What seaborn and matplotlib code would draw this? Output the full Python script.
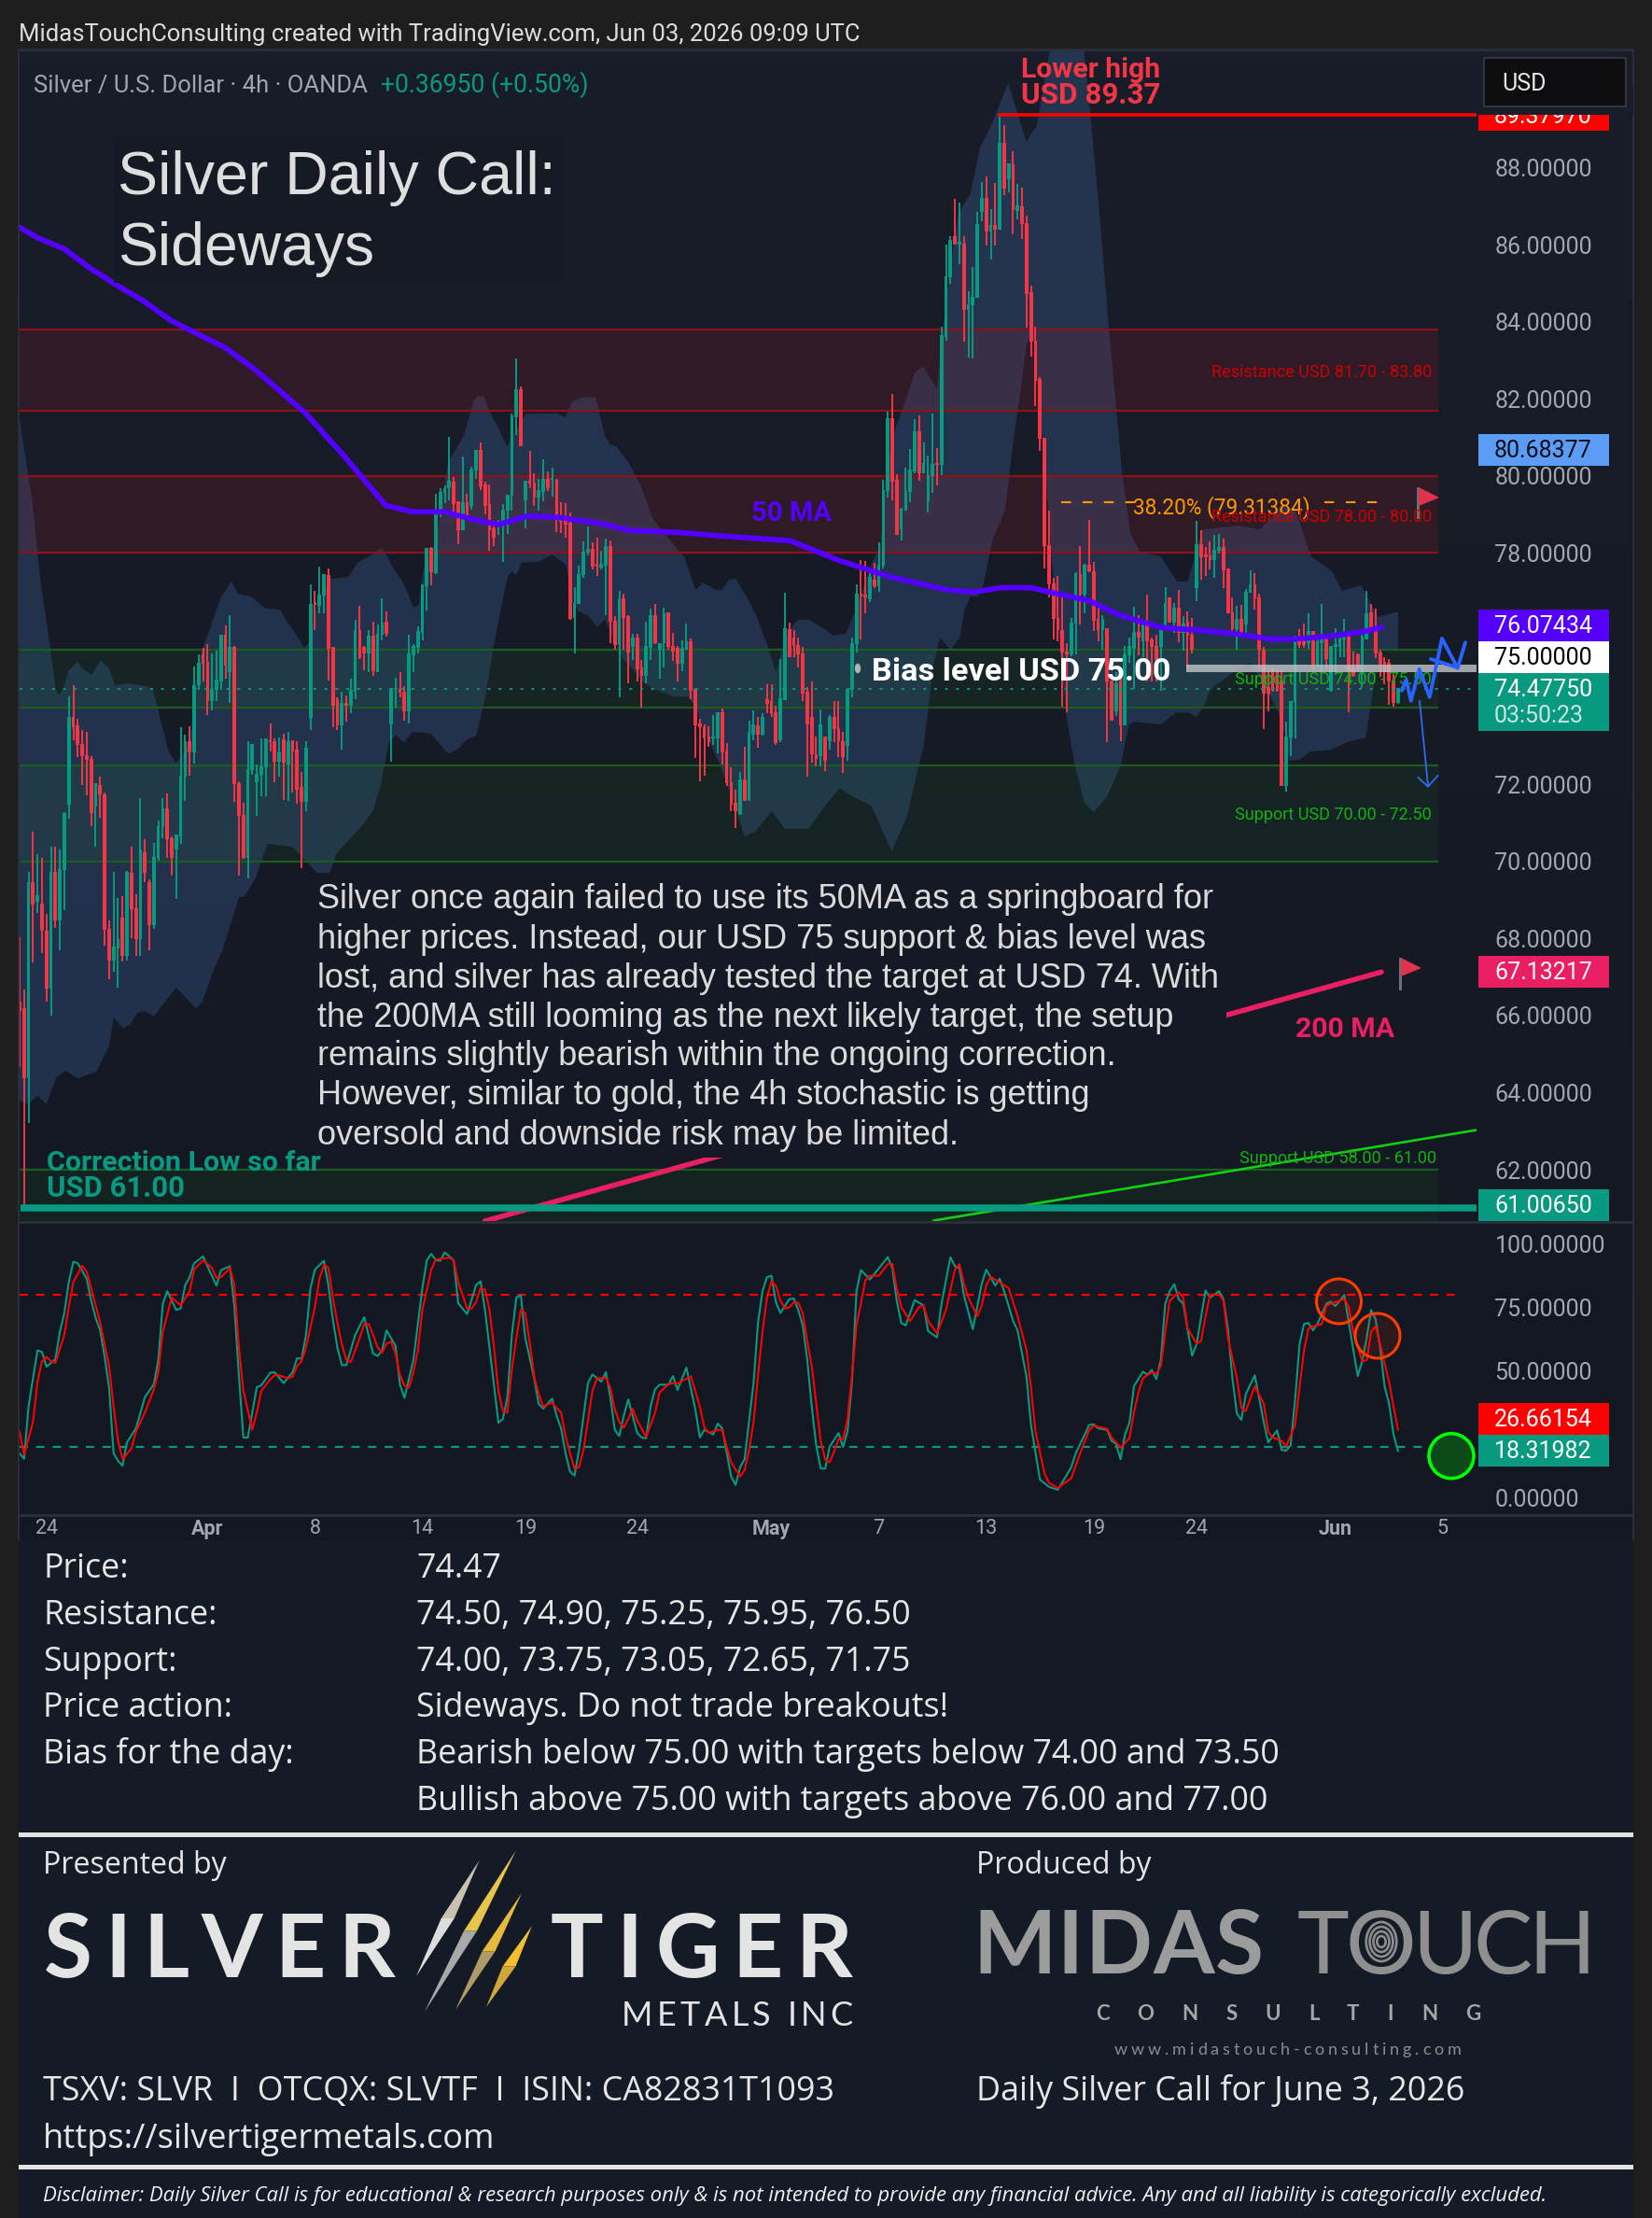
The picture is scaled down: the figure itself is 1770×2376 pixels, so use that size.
import numpy as np
import matplotlib
matplotlib.use("Agg")
import matplotlib.pyplot as plt
from matplotlib.patches import Rectangle, Ellipse, Polygon
import seaborn as sns

# candles, oldest first
opens = [
    66.35, 66.17, 64.37, 69.45, 68.95, 68.89, 68.19, 66.71, 69.70, 68.48,
    69.78, 71.48, 73.72, 73.51, 73.03, 72.74, 72.64, 71.43, 71.95, 71.73,
    68.22, 67.43, 67.73, 68.51, 67.54, 69.68, 68.76, 67.99, 70.22, 69.43,
    68.35, 70.08, 70.89, 71.35, 70.57, 70.30, 70.65, 72.21, 73.09, 72.82,
    74.56, 75.36, 75.16, 74.16, 74.44, 74.67, 75.86, 74.92, 75.54, 72.00,
    71.19, 70.08, 72.37, 72.05, 72.24, 72.44, 73.13, 73.09, 72.59, 73.14,
    72.51, 73.13, 72.87, 71.90, 71.54, 73.72, 76.70, 76.62, 76.89, 77.41,
    75.54, 74.19, 73.54, 74.08, 74.05, 74.40, 75.97, 75.54, 75.40, 75.83,
    74.92, 75.89, 76.19, 73.55, 74.47, 74.46, 74.37, 73.90, 75.35, 75.54,
    75.93, 77.14, 78.12, 77.47, 79.04, 79.56, 79.67, 79.82, 79.32, 78.59,
    79.29, 79.22, 80.13, 80.66, 79.75, 79.24, 78.61, 78.72, 78.72, 79.10,
    79.49, 81.53, 82.23, 79.37, 79.85, 79.80, 79.44, 79.58, 79.91, 79.89,
    79.88, 78.89, 78.83, 78.76, 76.32, 76.69, 77.43, 78.01, 78.09, 77.69,
    77.62, 77.68, 78.16, 76.23, 75.63, 76.80, 76.34, 75.57, 75.78, 75.00,
    74.82, 75.54, 76.38, 75.50, 75.65, 76.43, 75.57, 75.52, 75.13, 75.50,
    75.69, 74.46, 73.55, 73.47, 73.21, 73.18, 73.19, 73.84, 72.84, 72.04,
    71.49, 71.22, 72.10, 71.59, 73.30, 73.52, 73.30, 74.19, 74.14, 73.85,
    73.14, 74.19, 76.00, 75.78, 75.60, 75.38, 74.38, 73.74, 72.77, 72.74,
    73.22, 73.11, 73.73, 73.43, 73.11, 73.00, 74.44, 75.63, 76.92, 76.89,
    76.81, 77.30, 77.13, 77.67, 79.60, 81.47, 79.87, 78.62, 79.11, 79.58,
    80.12, 81.13, 80.06, 79.35, 80.00, 80.32, 80.28, 83.60, 85.16, 86.21,
    86.01, 86.01, 84.30, 84.44, 84.62, 86.86, 87.19, 86.33, 86.48, 86.38,
    88.62, 87.70, 88.06, 86.87, 86.98, 86.55, 84.75, 83.49, 82.49, 80.98,
    78.19, 77.20, 76.30, 75.97, 75.43, 75.38, 76.16, 77.43, 76.92, 77.67,
    77.51, 76.27, 76.00, 76.04, 74.67, 73.90, 74.67, 73.54, 75.35, 75.51,
    75.92, 75.72, 76.12, 75.74, 75.56, 75.56, 76.07, 76.82, 76.19, 76.57,
    75.92, 76.20, 75.86, 77.09, 78.20, 77.94, 77.91, 77.82, 78.06, 78.14,
    77.57, 76.43, 76.02, 76.26, 76.15, 76.97, 77.17, 76.83, 75.48, 74.51,
    74.99, 74.91, 74.68, 71.96, 73.22, 74.14, 75.81, 75.80, 75.65, 75.96,
    75.07, 75.65, 75.82, 74.43, 75.57, 75.56, 75.76, 75.80, 74.99, 75.35,
    74.91, 75.76, 76.44, 76.08, 75.40, 75.15, 75.14, 74.67, 74.10,
]
highs = [
    68.03, 66.68, 69.73, 70.78, 70.19, 70.10, 68.65, 70.38, 70.37, 70.32,
    71.27, 74.27, 74.56, 73.70, 73.40, 73.35, 72.73, 72.03, 72.21, 71.78,
    68.48, 69.72, 69.05, 69.11, 69.76, 70.38, 69.15, 71.63, 70.57, 69.54,
    70.49, 71.05, 71.63, 71.76, 70.65, 70.70, 73.49, 73.30, 73.50, 75.05,
    75.36, 75.55, 75.63, 75.40, 75.46, 75.88, 76.12, 76.40, 75.59, 72.08,
    71.53, 73.11, 73.05, 72.51, 73.18, 73.18, 73.57, 73.19, 73.22, 73.31,
    73.35, 73.14, 73.13, 72.32, 73.11, 77.18, 77.02, 77.65, 77.45, 77.59,
    75.56, 74.26, 74.40, 74.30, 74.75, 76.26, 76.62, 75.59, 76.00, 76.22,
    76.14, 76.82, 76.48, 74.50, 74.76, 74.91, 74.55, 75.88, 75.63, 76.09,
    77.19, 78.12, 78.15, 79.54, 79.67, 79.75, 81.01, 79.97, 79.33, 80.50,
    79.54, 80.25, 80.66, 80.86, 79.85, 79.78, 78.79, 78.87, 79.26, 79.50,
    81.62, 83.04, 82.31, 79.87, 80.66, 80.06, 79.93, 80.43, 80.12, 80.21,
    79.93, 79.33, 79.29, 79.04, 77.11, 77.66, 78.31, 78.68, 78.27, 78.40,
    78.07, 78.37, 78.33, 76.36, 77.01, 76.94, 76.38, 75.91, 75.90, 75.22,
    76.23, 76.55, 76.67, 75.67, 76.58, 76.45, 75.93, 75.59, 75.73, 76.16,
    75.78, 74.48, 73.70, 73.55, 73.51, 73.79, 73.88, 73.96, 73.06, 72.43,
    71.85, 72.32, 72.97, 73.65, 73.92, 73.76, 73.84, 74.59, 74.59, 74.05,
    75.25, 76.97, 76.19, 76.00, 75.81, 75.56, 74.52, 74.66, 73.24, 73.93,
    73.25, 73.79, 74.17, 74.17, 73.35, 74.51, 75.81, 77.19, 77.81, 77.79,
    77.60, 77.74, 78.27, 79.90, 81.67, 82.12, 80.04, 79.17, 80.21, 80.70,
    81.47, 81.56, 80.87, 80.52, 81.62, 80.73, 83.87, 86.01, 86.21, 87.20,
    87.09, 86.21, 84.79, 85.43, 86.84, 87.63, 87.78, 86.93, 87.59, 89.33,
    89.11, 88.10, 88.43, 87.57, 87.48, 86.75, 84.93, 83.87, 82.57, 81.00,
    79.11, 77.35, 77.40, 76.92, 75.67, 76.32, 77.51, 78.19, 77.73, 78.87,
    77.76, 76.68, 76.38, 76.06, 74.67, 74.91, 74.95, 75.58, 75.80, 76.61,
    76.38, 76.14, 76.93, 75.80, 75.88, 76.07, 77.11, 76.82, 76.70, 77.03,
    76.36, 76.48, 76.31, 78.83, 78.58, 78.15, 78.30, 78.48, 78.50, 78.38,
    77.59, 76.85, 76.62, 76.65, 77.07, 77.55, 77.48, 76.95, 75.56, 74.99,
    74.99, 74.95, 74.95, 73.62, 74.14, 75.85, 76.02, 76.16, 76.43, 75.96,
    75.81, 76.67, 75.90, 75.60, 76.04, 75.96, 76.28, 75.88, 75.44, 75.39,
    75.92, 77.01, 76.69, 76.55, 75.50, 75.31, 75.26, 74.87, 74.47,
]
lows = [
    64.67, 61.00, 63.22, 67.38, 68.67, 67.63, 66.35, 65.99, 68.27, 67.70,
    68.73, 71.11, 73.14, 72.70, 71.97, 71.72, 70.92, 70.38, 71.14, 67.81,
    66.94, 67.13, 66.73, 67.41, 67.43, 68.00, 67.54, 67.56, 69.45, 67.70,
    68.26, 70.03, 70.59, 70.08, 69.63, 69.03, 70.46, 71.57, 72.22, 72.53,
    74.44, 74.66, 73.79, 73.92, 74.17, 74.44, 74.73, 74.11, 71.54, 69.63,
    70.06, 69.56, 72.24, 71.18, 71.70, 71.70, 72.84, 72.05, 72.19, 71.59,
    71.57, 71.78, 71.49, 69.82, 71.30, 73.40, 76.00, 76.44, 76.44, 74.70,
    73.49, 73.41, 72.89, 73.63, 73.84, 74.22, 75.24, 74.97, 74.92, 74.82,
    74.92, 75.74, 75.82, 72.58, 73.99, 74.25, 73.65, 73.58, 74.92, 75.40,
    75.73, 76.51, 77.17, 77.46, 78.93, 79.30, 79.36, 79.00, 78.24, 78.59,
    78.89, 79.13, 79.93, 79.63, 79.00, 78.07, 78.18, 78.47, 77.77, 78.49,
    79.09, 81.06, 80.77, 78.64, 79.67, 79.22, 79.09, 79.35, 79.61, 79.46,
    78.55, 78.53, 78.40, 76.26, 75.40, 76.69, 77.36, 77.95, 77.57, 77.40,
    77.57, 76.39, 75.67, 75.48, 74.25, 75.48, 74.62, 75.22, 74.68, 73.98,
    74.62, 75.22, 75.63, 74.75, 75.04, 75.48, 75.21, 74.68, 74.94, 75.50,
    74.20, 72.69, 72.07, 72.23, 72.97, 73.03, 72.80, 72.51, 71.95, 71.31,
    70.87, 71.21, 71.58, 71.56, 73.14, 72.95, 73.27, 73.85, 73.76, 73.03,
    73.10, 74.19, 75.30, 75.30, 75.02, 74.16, 72.21, 72.55, 72.46, 72.46,
    72.35, 72.90, 73.10, 72.70, 72.30, 72.60, 74.25, 75.43, 75.76, 76.44,
    76.73, 77.09, 77.00, 77.60, 79.44, 79.36, 78.46, 78.33, 79.11, 79.31,
    80.06, 79.87, 80.06, 79.06, 79.56, 79.76, 80.03, 83.51, 84.98, 86.01,
    85.49, 83.49, 83.08, 83.06, 84.62, 86.62, 85.98, 85.62, 85.98, 86.38,
    87.29, 87.35, 86.27, 86.66, 86.16, 83.85, 83.09, 81.81, 80.65, 77.60,
    76.84, 75.76, 75.71, 74.01, 73.87, 75.33, 75.38, 76.14, 76.43, 77.49,
    75.98, 75.71, 75.48, 73.10, 73.66, 73.78, 73.13, 73.54, 75.15, 74.47,
    75.35, 75.31, 74.67, 74.67, 74.67, 74.43, 76.04, 76.20, 75.92, 75.68,
    75.46, 74.99, 75.40, 76.75, 77.31, 77.41, 77.57, 77.36, 77.98, 77.09,
    76.43, 75.90, 75.50, 75.84, 75.84, 77.09, 76.54, 74.99, 73.44, 73.90,
    74.39, 74.39, 71.96, 71.80, 72.73, 73.18, 75.54, 75.54, 75.52, 74.99,
    75.03, 74.91, 74.99, 74.41, 74.83, 75.31, 75.31, 73.86, 74.79, 74.91,
    74.49, 75.76, 76.00, 75.27, 74.79, 74.59, 74.06, 74.02, 74.08,
]
closes = [
    66.13, 64.37, 69.45, 68.87, 69.11, 68.19, 66.71, 69.70, 68.46, 69.78,
    71.24, 73.72, 73.49, 73.03, 72.74, 72.64, 71.25, 72.00, 71.73, 68.22,
    67.43, 67.76, 67.97, 67.54, 69.70, 68.75, 67.99, 70.30, 69.71, 68.35,
    70.10, 70.89, 71.35, 70.57, 70.08, 70.67, 72.21, 73.09, 72.82, 74.56,
    75.13, 75.13, 74.16, 74.46, 74.70, 75.86, 75.07, 75.54, 72.00, 71.18,
    70.08, 72.37, 73.02, 72.24, 72.44, 73.16, 73.09, 72.59, 72.80, 72.57,
    73.11, 72.86, 71.86, 71.55, 72.94, 76.67, 76.65, 76.91, 77.43, 75.52,
    74.05, 73.54, 74.10, 74.03, 74.43, 75.97, 75.27, 75.40, 75.83, 74.94,
    75.89, 76.17, 75.91, 74.48, 74.49, 74.37, 73.90, 75.37, 75.56, 75.95,
    77.16, 78.11, 77.49, 79.04, 79.56, 79.67, 79.85, 79.28, 78.59, 79.29,
    78.93, 80.14, 80.66, 79.74, 79.23, 78.59, 78.40, 78.74, 79.11, 79.50,
    81.54, 82.23, 80.77, 79.85, 79.80, 79.45, 79.61, 79.91, 79.67, 79.93,
    78.89, 78.82, 78.74, 76.29, 76.69, 77.44, 78.02, 78.09, 77.64, 77.65,
    77.70, 78.17, 76.23, 75.62, 76.80, 76.32, 75.43, 75.78, 74.98, 74.82,
    75.56, 76.38, 75.65, 75.65, 76.42, 75.57, 75.45, 75.13, 75.52, 75.69,
    74.43, 73.54, 73.47, 73.19, 73.10, 73.23, 73.86, 72.83, 72.02, 71.48,
    71.31, 72.10, 71.58, 73.33, 73.54, 73.30, 73.74, 74.08, 73.81, 73.06,
    74.21, 76.03, 75.30, 75.60, 75.36, 74.35, 73.55, 72.77, 72.67, 73.54,
    72.60, 73.74, 73.43, 73.11, 72.70, 74.46, 75.63, 76.92, 76.87, 76.84,
    77.35, 77.13, 77.68, 79.62, 81.47, 79.85, 78.48, 79.13, 79.60, 80.14,
    81.13, 80.06, 80.32, 80.00, 80.30, 80.28, 83.63, 85.16, 86.10, 86.01,
    86.05, 84.30, 84.44, 84.62, 86.52, 87.19, 86.33, 86.48, 86.38, 88.62,
    87.46, 88.08, 86.89, 87.00, 86.54, 84.73, 83.49, 82.46, 80.97, 78.19,
    77.19, 76.30, 76.00, 75.43, 75.38, 76.17, 77.46, 76.92, 77.68, 77.52,
    76.25, 76.01, 76.28, 74.67, 73.66, 74.59, 73.54, 75.35, 75.56, 75.92,
    75.80, 76.12, 75.72, 75.56, 75.23, 76.07, 76.69, 76.20, 76.57, 75.92,
    76.16, 75.85, 75.50, 78.20, 77.88, 77.88, 77.82, 78.07, 78.14, 77.56,
    76.43, 76.02, 76.26, 75.92, 76.97, 77.17, 76.83, 75.48, 74.36, 74.36,
    74.43, 74.43, 71.96, 73.22, 74.14, 75.80, 75.62, 75.62, 75.96, 75.11,
    75.68, 75.82, 75.25, 75.58, 75.61, 75.77, 75.78, 74.95, 74.81, 74.99,
    75.80, 76.42, 76.08, 75.40, 75.11, 74.91, 74.67, 74.10, 74.48,
]

# volatility band around price, candle number and level
upper_x = [0, 2.9, 4.7, 6, 8.1, 8.8, 9.9, 10.9, 13, 14, 16.1, 18.1, 20, 21.3, 24.1, 28.3, 29.8, 31.8, 33.2, 34.9,
           35.9, 38, 40.1, 42.2, 43.6, 45, 47.3, 48.8, 51.9, 54.7, 58.2, 60.3, 63.7, 64.8, 66.5, 69.3, 73.5, 75.6,
           79, 80.8, 82.2, 83.2, 85.3, 86.7, 88, 89.3, 90.2, 93, 95.7, 99.2, 101.3, 102.3, 103.7, 105.1, 106.8,
           108.9, 113.1, 120.1, 122, 123.5, 125.6, 128.7, 130.8, 131.9, 133.3, 136, 138.8, 141.6, 145.8, 148.6,
           151, 152.7, 155.5, 156.9, 158.6, 160, 162.5, 164.5, 167.3, 169, 170.8, 172.9, 174, 176.4, 179.8, 181.9,
           184.7, 186.8, 190.3, 192.4, 193.7, 195.8, 197.9, 200, 201.9, 203.5, 205, 207, 209.7, 212.5, 214.6,
           217.4, 220.9, 225, 227.3, 230.2, 232, 237.8, 239.4, 241.2, 243.5, 246.3, 248.2, 250.4, 255, 258.6, 261,
           264.3, 272.3, 277.2, 281.8, 285, 288.6, 293.2, 295.5, 299.7, 303.6, 307.2, 308]
upper_y = [81.47, 79.27, 77.22, 76.24, 74.46, 74.30, 74.51, 74.95, 75.18, 75.00, 74.84, 75.22, 75.00, 74.57, 74.62,
           74.55, 74.46, 73.54, 72.89, 72.55, 72.68, 73.11, 75.27, 75.92, 76.40, 76.84, 77.27, 76.94, 76.86, 76.57,
           76.53, 76.13, 75.54, 75.70, 76.67, 77.32, 77.38, 77.76, 77.97, 78.14, 77.92, 77.66, 77.31, 76.97, 76.58,
           76.67, 77.57, 78.27, 80.34, 81.03, 81.90, 82.07, 82.07, 81.64, 81.29, 80.77, 81.61, 81.62, 81.53, 81.94,
           82.04, 82.04, 81.03, 80.82, 80.77, 80.36, 79.74, 78.87, 78.27, 77.88, 77.04, 77.23, 77.04, 77.04, 77.31,
           77.33, 76.85, 76.41, 75.54, 74.90, 75.65, 76.14, 76.27, 76.27, 76.03, 75.85, 75.92, 76.52, 77.70, 78.20,
           80.19, 81.27, 81.92, 82.68, 82.84, 82.52, 82.25, 84.52, 86.79, 87.33, 88.51, 89.17, 90.19, 88.66, 89.10,
           91.05, 91.40, 91.05, 89.20, 86.94, 83.70, 80.14, 78.51, 78.02, 77.91, 77.26, 77.26, 78.61, 78.71, 78.61,
           79.20, 79.15, 77.91, 77.53, 77.02, 77.16, 76.34, 76.46, 76.46]
lower_x = [0, 1.9, 4, 6, 8.1, 10.2, 13, 17.2, 20, 21, 23.1, 24.8, 26.2, 27.9, 30, 35, 39.4, 40.8, 42.9, 45.3, 49.1,
           50.2, 52.6, 55.4, 61, 66.5, 69.3, 70.7, 74.5, 76.3, 79, 80.8, 82.5, 84, 86, 87.7, 90.2, 91.9, 93.6, 95.7,
           97.8, 99.9, 102, 104.1, 105.8, 107.5, 109.1, 110, 111, 112.1, 115.9, 119, 122.1, 123.5, 124.9, 127, 129.1,
           130.8, 132.6, 134.7, 137.1, 139.5, 142, 145.8, 149.3, 151, 152.7, 156.2, 159.7, 162, 164.4, 168, 171,
           176.4, 180, 183.3, 186.8, 190.3, 194.9, 198.3, 200.7, 202, 204.2, 205.6, 208, 210.1, 211.1, 212.5, 213.9,
           215.3, 217.4, 220.2, 222.2, 223.6, 225, 226.4, 229.5, 230.6, 232.3, 234, 235.8, 237.9, 240, 243, 245.9,
           247.9, 249, 252.8, 254.9, 258.4, 261.5, 262.9, 264.6, 266, 267.4, 272.3, 275, 276.8, 279.2, 281.3, 282.7,
           283.7, 286.2, 288.3, 292.8, 296.6, 300.8, 302.5, 304.2, 308]
lower_y = [63.81, 63.70, 63.92, 63.70, 64.37, 64.57, 64.37, 64.55, 65.21, 65.97, 65.67, 65.78, 66.06, 66.13, 65.99,
           66.73, 66.19, 66.35, 67.05, 67.70, 69.08, 69.08, 69.54, 70.46, 70.38, 69.70, 69.70, 70.19, 70.67, 70.89,
           71.32, 72.04, 73.08, 73.28, 73.08, 73.36, 73.34, 73.32, 73.08, 72.80, 72.90, 73.16, 73.27, 74.29, 75.50,
           76.54, 77.40, 77.53, 77.42, 77.75, 77.77, 77.96, 77.70, 76.71, 76.49, 76.38, 76.08, 76.29, 75.80, 75.28,
           74.98, 74.63, 74.46, 74.29, 74.27, 74.03, 73.42, 72.60, 71.52, 70.64, 70.78, 71.30, 70.85, 70.85, 71.46,
           71.90, 71.64, 71.45, 70.26, 71.17, 72.40, 72.97, 75.11, 75.81, 75.49, 75.81, 76.51, 76.89, 76.86, 77.16,
           78.35, 79.11, 81.06, 82.14, 83.43, 83.76, 79.75, 77.82, 75.72, 73.70, 72.49, 71.52, 71.28, 71.68, 72.45,
           73.54, 73.62, 73.58, 73.55, 73.86, 73.86, 73.74, 74.02, 74.43, 74.59, 74.99, 75.15, 74.83, 74.35, 73.86,
           73.30, 72.61, 72.65, 72.85, 72.89, 73.09, 73.22, 74.51, 75.48, 75.52]

# moving averages
ma50_x = [0, 4, 10, 15.4, 21.4, 27.4, 34, 45.9, 52.5, 63.8, 72.2, 81.8, 87.8, 95, 101, 107, 113.5, 120, 129.7, 136.3,
          147.7, 156, 172.2, 183.3, 194.9, 207.6, 213.4, 219.2, 226, 230.8, 238.8, 245.8, 255, 264.3, 271.3, 279.4,
          285.1, 293.2, 300.2, 304.3]
ma50_y = [86.45, 86.18, 85.89, 85.42, 84.97, 84.56, 84.02, 83.33, 82.77, 81.64, 80.56, 79.24, 79.07, 79.07, 78.88,
          78.74, 78.96, 78.93, 78.77, 78.59, 78.53, 78.45, 78.32, 77.80, 77.37, 77.04, 76.99, 77.10, 77.10, 76.97,
          76.77, 76.39, 76.07, 75.99, 75.91, 75.77, 75.77, 75.85, 75.96, 76.07]
ma200_x = [104, 304.3]
ma200_y = [60.67, 67.13]
trend_x = [204.2, 325.5]
trend_y = [60.68, 63.03]

# stochastic, %K and %D
k_x = [0, 1, 2, 4, 5, 6, 8, 9, 10, 11, 12, 13, 15, 16, 17, 18, 19, 20, 21, 22, 23, 24, 26, 28, 30, 31, 32, 33, 35, 36,
       37, 38, 39, 41, 42, 44, 45, 47, 48, 49, 50, 51, 52, 53, 54, 56, 57, 59, 61, 62, 63, 64, 65, 66, 68, 69, 70, 71,
       72, 73, 75, 77, 79, 80, 81, 82, 84, 85, 86, 88, 90, 91, 92, 93, 94, 95, 97, 98, 100, 102, 103, 104, 105, 106,
       107, 108, 109, 110, 111, 112, 113, 115, 116, 117, 119, 120, 121, 122, 123, 124, 125, 127, 128, 130, 131, 132,
       133, 134, 135, 136, 138, 139, 140, 141, 142, 143, 145, 146, 147, 149, 151, 152, 153, 155, 156, 157, 159, 160,
       161, 162, 164, 165, 166, 167, 168, 169, 170, 172, 173, 174, 175, 176, 177, 178, 179, 180, 181, 183, 184, 185,
       186, 187, 188, 190, 194, 195, 196, 197, 198, 200, 202, 203, 205, 206, 208, 209, 210, 211, 213, 215, 216, 218,
       219, 220, 222, 223, 225, 226, 228, 230, 232, 235, 236, 237, 239, 240, 241, 243, 244, 245, 246, 247, 248, 249,
       251, 252, 253, 254, 255, 256, 257, 258, 259, 260, 262, 263, 265, 266, 268, 269, 270, 271, 272, 273, 274, 276,
       278, 279, 281, 282, 283, 284, 285, 286, 287, 288, 289, 290, 292, 293, 294, 296, 297, 299, 300, 301, 302, 303,
       304, 305, 306, 307, 308]
k_y = [17.5, 15.3, 35.9, 58.0, 57.4, 51.6, 54.5, 65.3, 72.7, 84.9, 92.9, 92.3, 86.2, 77.6, 70.8, 65.9, 55.5, 43.3, 17.5,
       14.5, 12.6, 21.8, 27.3, 39.6, 44.7, 54.3, 76.4, 81.3, 73.9, 74.5, 83.7, 86.8, 92.3, 95.0, 91.1, 83.5, 89.6,
       91.1, 75.1, 48.2, 23.7, 23.7, 33.5, 43.5, 44.2, 49.2, 49.4, 45.1, 49.4, 54.9, 54.7, 64.1, 82.5, 89.8, 93.3,
       83.7, 70.2, 59.2, 52.2, 52.2, 64.1, 71.1, 56.7, 55.8, 58.0, 65.9, 59.8, 44.5, 39.3, 54.3, 82.5, 93.5, 96.0,
       93.5, 93.3, 96.6, 93.5, 76.6, 72.3, 83.7, 85.2, 73.9, 59.2, 44.5, 29.5, 31.0, 39.6, 64.1, 78.8, 79.7, 62.9,
       46.9, 36.9, 35.1, 39.0, 32.2, 27.3, 17.5, 10.2, 8.7, 18.8, 45.1, 48.5, 45.7, 49.4, 39.6, 26.7, 24.3, 32.2,
       38.7, 25.5, 23.7, 23.4, 35.9, 42.7, 44.5, 44.5, 47.9, 42.4, 51.2, 34.7, 23.7, 26.7, 24.9, 29.2, 27.3, 8.3,
       5.0, 12.0, 15.1, 45.1, 69.0, 81.3, 86.8, 87.4, 77.0, 72.7, 78.2, 78.4, 73.9, 67.8, 54.3, 35.9, 20.6, 11.6,
       11.4, 20.0, 25.5, 20.0, 26.1, 45.7, 81.3, 89.6, 85.9, 94.7, 90.5, 77.6, 68.8, 67.8, 77.8, 75.7, 65.6, 63.1,
       76.4, 94.7, 91.1, 90.5, 79.8, 66.3, 84.3, 89.8, 83.5, 86.2, 81.3, 69.6, 65.9, 47.6, 28.6, 7.1, 4.3, 3.1, 12.0,
       17.5, 21.2, 28.6, 28.9, 27.3, 26.7, 22.4, 21.2, 15.1, 24.9, 29.5, 43.9, 49.6, 48.4, 50.3, 46.7, 54.3, 76.4,
       81.3, 84.1, 78.2, 76.4, 55.9, 60.4, 81.6, 78.8, 81.3, 78.2, 66.6, 47.0, 33.1, 30.6, 40.8, 48.2, 29.8, 21.8,
       26.5, 18.8, 18.5, 20.6, 38.4, 60.4, 68.4, 68.8, 65.9, 68.4, 76.4, 77.2, 75.4, 79.8, 69.0, 47.9, 53.7, 62.9,
       73.9, 70.2, 59.2, 43.9, 37.1, 24.9, 18.3]
d_x = [0, 1, 3, 4, 5, 6, 7, 8, 10, 11, 12, 14, 15, 16, 18, 19, 20, 21, 22, 23, 25, 26, 28, 30, 31, 32, 34, 36, 38, 39,
       41, 43, 44, 45, 47, 48, 49, 50, 52, 53, 54, 56, 57, 58, 60, 61, 62, 63, 64, 66, 67, 68, 69, 70, 71, 72, 73, 74,
       76, 77, 78, 79, 80, 81, 82, 83, 84, 85, 86, 87, 88, 89, 90, 92, 93, 96, 97, 98, 100, 101, 102, 103, 104, 105,
       106, 107, 108, 109, 110, 111, 112, 113, 114, 115, 116, 117, 119, 120, 121, 122, 123, 124, 125, 126, 128, 129,
       131, 132, 133, 134, 135, 136, 137, 138, 140, 142, 143, 145, 146, 147, 150, 152, 153, 154, 156, 157, 158, 159,
       161, 162, 163, 164, 165, 166, 167, 168, 169, 170, 171, 172, 173, 174, 175, 176, 177, 178, 179, 180, 181, 182,
       183, 184, 185, 186, 187, 189, 190, 192, 194, 195, 196, 197, 199, 201, 202, 203, 205, 207, 209, 210, 211, 212,
       214, 215, 216, 217, 218, 221, 223, 225, 226, 227, 229, 230, 232, 235, 237, 239, 240, 243, 244, 245, 246, 248,
       249, 250, 251, 253, 254, 255, 256, 257, 259, 260, 261, 263, 264, 265, 266, 268, 269, 270, 272, 273, 274, 276,
       278, 279, 280, 282, 283, 285, 287, 288, 289, 291, 292, 294, 296, 297, 298, 300, 301, 302, 303, 304, 306, 307,
       308]
d_y = [26.1, 16.9, 29.8, 45.7, 53.7, 55.5, 53.7, 53.1, 64.1, 75.1, 84.9, 91.3, 88.9, 82.5, 69.0, 60.4, 51.9, 35.9, 22.4,
       15.1, 19.4, 26.1, 33.5, 42.7, 49.4, 65.3, 78.8, 75.7, 81.3, 89.8, 93.5, 90.5, 86.5, 86.8, 90.5, 83.7, 59.2,
       42.0, 26.7, 33.5, 42.0, 46.6, 48.2, 48.2, 47.0, 47.6, 51.8, 53.7, 59.2, 75.1, 86.2, 91.7, 90.5, 78.8, 69.0,
       60.4, 54.3, 53.4, 62.9, 68.4, 68.4, 64.1, 59.2, 57.1, 60.7, 61.4, 56.7, 48.2, 44.1, 43.3, 49.4, 58.0, 73.9,
       89.8, 93.8, 94.5, 93.5, 84.9, 74.5, 74.5, 77.0, 82.5, 81.9, 73.9, 59.2, 42.0, 34.1, 33.5, 50.6, 62.9, 73.9,
       72.7, 61.0, 47.6, 40.8, 35.9, 37.5, 35.3, 33.5, 24.3, 17.5, 11.4, 12.0, 18.8, 42.0, 47.0, 47.2, 43.3, 34.7,
       29.8, 27.6, 31.0, 35.0, 30.4, 23.9, 33.5, 41.4, 44.7, 45.1, 44.9, 47.8, 35.9, 27.7, 25.5, 26.7, 26.7, 20.0,
       13.9, 8.3, 10.8, 18.8, 29.8, 48.2, 65.3, 78.8, 85.2, 83.5, 77.6, 74.5, 74.9, 77.0, 76.7, 72.7, 61.7, 51.9,
       37.1, 22.4, 15.1, 13.9, 18.2, 23.1, 23.1, 31.0, 48.2, 67.8, 85.6, 87.4, 87.4, 92.0, 92.0, 82.5, 75.1, 69.6,
       75.1, 75.7, 69.6, 64.7, 73.9, 89.8, 92.0, 84.3, 78.8, 71.5, 75.7, 83.7, 87.0, 85.9, 82.5, 71.5, 58.0, 43.3,
       26.1, 9.6, 5.9, 3.8, 7.7, 17.5, 26.7, 28.3, 27.1, 23.7, 21.8, 19.7, 23.4, 33.5, 41.4, 47.0, 49.4, 48.8, 51.8,
       65.3, 77.6, 80.9, 78.8, 66.6, 60.7, 61.7, 71.5, 80.0, 80.0, 77.6, 62.9, 47.0, 35.3, 34.1, 43.9, 37.1, 26.1,
       23.7, 22.4, 20.2, 28.6, 58.0, 66.6, 67.5, 68.4, 75.7, 77.0, 78.2, 75.1, 65.3, 53.7, 54.1, 65.3, 67.5, 60.4,
       45.7, 35.9, 26.7]

# axis labels and levels
price_ticks_shown = [62, 64, 66, 68, 70, 72, 78, 80, 82, 84, 86, 88]
stoch_ticks = [0, 25, 50, 75, 100]
time_pos = [6, 42, 66, 90, 113, 138, 168, 192, 216, 240, 263, 294, 318]
time_labels = ["24", "Apr", "8", "14", "19", "24", "May", "7", "13", "19", "24", "Jun", "5"]
month_labels = ["Apr", "May", "Jun"]
red_zones = [(81.70, 83.80), (78.00, 80.00)]
green_zones = [(74.00, 75.50), (70.00, 72.50), (58.00, 62.00)]
table_rows = [
    ("Price:", "74.47", 1690),
    ("Resistance:", "74.50, 74.90, 75.25, 75.95, 76.50", 1740),
    ("Support:", "74.00, 73.75, 73.05, 72.65, 71.75", 1790),
    ("Price action:", "Sideways. Do not trade breakouts!", 1839),
    ("Bias for the day:", "Bearish below 75.00 with targets below 74.00 and 73.50", 1889),
    ("", "Bullish above 75.00 with targets above 76.00 and 77.00", 1939),
]
paragraph = [
    "Silver once again failed to use its 50MA as a springboard for",
    "higher prices. Instead, our USD 75 support & bias level was",
    "lost, and silver has already tested the target at USD 74. With",
    "the 200MA still looming as the next likely target, the setup",
    "remains slightly bearish within the ongoing correction.",
    "However, similar to gold, the 4h stochastic is getting",
    "oversold and downside risk may be limited.",
]

UP = "#089981"
DOWN = "#f23645"
W, H = 1770, 2376

sns.set_theme(style="dark", rc={"axes.grid": False})
plt.rcParams["font.family"] = ["Roboto", "DejaVu Sans"]

fig = plt.figure(figsize=(W / 100, H / 100), dpi=100, facecolor="#1e1e1e")
renderer = fig.canvas.get_renderer()


def panel(x0, y0, x1, y1, **kw):
    return fig.add_axes([x0 / W, 1 - y1 / H, (x1 - x0) / W, (y1 - y0) / H], **kw)


# background gradient of the chart, flat navy below
bg = panel(20, 53, 1750, 1650, zorder=0)
grad = np.linspace(0, 1, 256)[:, None, None]
top_c = np.array([25, 29, 41]) / 255
bot_c = np.array([19, 23, 34]) / 255
bg.imshow(top_c + (bot_c - top_c) * grad, aspect="auto")
bg.axis("off")
foot = panel(20, 1650, 1750, H, zorder=0, facecolor="#141a26")
foot.set_xticks([])
foot.set_yticks([])
for s in foot.spines.values():
    s.set_visible(False)

# price pane
ax = panel(20.6, 53.6, 1582, 1308, zorder=1)
ax.patch.set_visible(False)
ax.set_xlim(-0.08, 325.55)
ax.set_ylim(60.67, 91.05)
ax.fill(np.r_[upper_x, lower_x[::-1]], np.r_[upper_y, lower_y[::-1]], color="#5b9cf6", alpha=0.19, lw=0, zorder=1)

for lo, hi in red_zones:
    ax.fill_between([-0.08, 317], lo, hi, color="#e01e28", alpha=0.12, lw=0, zorder=2)
    ax.hlines([lo, hi], -0.08, 317, color="#8f1118", lw=1.6, zorder=2)
for lo, hi in green_zones:
    ax.fill_between([-0.08, 317], lo, hi, color="#1ea01e", alpha=0.08, lw=0, zorder=2)
    ax.hlines([lo, hi], -0.08, 317, color="#1a5c20", lw=1.6, zorder=2)

idx = np.arange(len(closes))
o = np.array(opens)
c = np.array(closes)
up = c >= o
colors = np.where(up, UP, DOWN)
ax.vlines(idx, lows, highs, colors=colors, lw=1.4, zorder=3)
ax.bar(idx, np.abs(c - o) + 0.02, bottom=np.minimum(o, c), width=0.78, color=colors, lw=0, zorder=3)

sns.lineplot(x=ma50_x, y=ma50_y, ax=ax, color="#5500ff", lw=4.2, estimator=None, sort=False, zorder=4)
sns.lineplot(x=ma200_x, y=ma200_y, ax=ax, color="#e91e63", lw=4.0, estimator=None, sort=False, zorder=4)
sns.lineplot(x=trend_x, y=trend_y, ax=ax, color="#12d012", lw=1.9, estimator=None, sort=False, zorder=4)
ax.hlines(74.4775, -0.08, 325.55, color=UP, lw=1.4, linestyles=(0, (1.5, 4.5)), zorder=4)
ax.hlines(61.0065, 0.2, 325.55, color=UP, lw=5.4, zorder=4)
ax.hlines(89.3797, 218.5, 325.55, color="#ff0000", lw=2.6, zorder=4)
ax.hlines(75.0, 260.7, 325.55, color="#c4c6c9", lw=5.8, alpha=0.8, zorder=5)
ax.hlines(79.31, 232.8, 249.5, color="#ff9800", lw=1.5, linestyles=(0, (5, 6)), zorder=4)
ax.hlines(79.31, 291.5, 304, color="#ff9800", lw=1.5, linestyles=(0, (5, 6)), zorder=4)

ax.yaxis.tick_right()
ax.set_yticks(price_ticks_shown)
ax.set_yticklabels([f"{v:.5f}" for v in price_ticks_shown])
ax.set_xticks([])
ax.tick_params(axis="y", length=0, pad=14, labelsize=18, labelcolor="#a3a6af")
ax.set_xlabel("")
ax.set_ylabel("")
for s in ax.spines.values():
    s.set_visible(False)

# stochastic pane
st = panel(20.6, 1310, 1582, 1623, zorder=1)
st.patch.set_visible(False)
st.set_xlim(-0.08, 325.55)
st.set_ylim(-6.84, 108.2)
st.hlines(80, -0.08, 322.5, color="#ff0000", lw=1.6, linestyles=(0, (4, 4)))
st.hlines(20, -0.08, 322.5, color=UP, lw=1.6, linestyles=(0, (4, 4)))
sns.lineplot(x=k_x, y=k_y, ax=st, color=UP, lw=1.5, estimator=None, sort=False)
sns.lineplot(x=d_x, y=d_y, ax=st, color="#ff0000", lw=1.5, estimator=None, sort=False)
st.yaxis.tick_right()
st.set_yticks(stoch_ticks)
st.set_yticklabels([f"{v:.5f}" for v in stoch_ticks])
st.set_xticks(time_pos)
st.set_xticklabels(time_labels)
st.tick_params(axis="y", length=0, pad=14, labelsize=18, labelcolor="#a3a6af")
st.tick_params(axis="x", length=0, pad=3, labelsize=15.5, labelcolor="#a3a6af")
for lab in st.get_xticklabels():
    if lab.get_text() in month_labels:
        lab.set_fontweight("bold")
st.set_xlabel("")
st.set_ylabel("")
for s in st.spines.values():
    s.set_visible(False)

# everything drawn on top, in image pixels
over = panel(0, 0, W, H, zorder=3)
over.patch.set_visible(False)
over.set_xlim(0, W)
over.set_ylim(H, 0)
over.axis("off")


def label(x, y, s, color, size, width=None, family="Roboto", **kw):
    t = over.text(x, y, s, color=color, fontsize=size, family=family, va=kw.pop("va", "baseline"), **kw)
    if width:
        t.set_fontsize(size * width / t.get_window_extent(renderer).width)
    return t


def spaced(x0, x1, y, word, size, color, family="Lato", **kw):
    # evenly spread letters between x0 and x1
    widths = []
    for ch in word:
        t = over.text(0, 0, ch, fontsize=size, family=family, **kw)
        widths.append(t.get_window_extent(renderer).width)
        t.remove()
    gap = (x1 - x0 - sum(widths)) / max(len(word) - 1, 1)
    x = x0
    for ch, w in zip(word, widths):
        over.text(x, y, ch, fontsize=size, family=family, color=color, va="baseline", **kw)
        x += w + gap


def rect(x0, y0, x1, y1, color, z=1, **kw):
    over.add_patch(Rectangle((x0, y0), x1 - x0, y1 - y0, facecolor=color, lw=0, zorder=z, **kw))


# frame
for box in [(20, 52, 1750, 55), (20, 1308, 1750, 1311), (20, 1622, 1750, 1625), (19, 53, 21, 1650), (1749, 53, 1751, 1650)]:
    rect(*box, "#2a2e39")

label(20, 44, "MidasTouchConsulting created with TradingView.com, Jun 03, 2026 09:09 UTC", "#dcdcdc", 16.5, width=896)
label(36, 99, "Silver / U.S. Dollar \u00b7 4h \u00b7 OANDA", "#a3a6af", 16, width=358)
label(408, 99, "+0.36950 (+0.50%)", UP, 16, width=223)

# title and comment boxes hide what runs behind them
rect(122, 145, 603, 303, "#151a25")
label(126, 208, "Silver Daily Call:", "#dedede", 48, width=470, family="Liberation Sans", zorder=3)
label(126, 284, "Sideways", "#dedede", 48, width=275, family="Liberation Sans", zorder=3)
rect(335, 935, 1314, 1240, "#151925")
para_lines = [973, 1015.6, 1057.6, 1099.7, 1141, 1183.4, 1226]
t = label(340, para_lines[2], paragraph[2], "#dadada", 25, width=970, family="Liberation Sans", zorder=3)
size = t.get_fontsize()
for i, line in enumerate(paragraph):
    if i != 2:
        label(340, para_lines[i], line, "#dadada", size, family="Liberation Sans", zorder=3)

# price tags on the scale
rect(1584, 100, 1724, 140, "#ff0000")
label(1601, 124.5, "89.37970", "#ffffff", 18, va="center", zorder=3)
rect(1584, 92, 1750, 122.5, "#191d29", z=4)
over.add_patch(Rectangle((1590, 62), 152, 52, facecolor="#0e0e10", edgecolor="#3a3c42", lw=1.2, zorder=5))
label(1609, 97, "USD", "#e6e6e6", 18, zorder=6)
tags = [
    (465, 498.6, "80.68377", "#5b9cf6", "#0b0e14"),
    (653, 687, "76.07434", "#5500ff", "#ffffff"),
    (687, 721, "75.00000", "#ffffff", "#000000"),
    (1024, 1058, "67.13217", "#e91e63", "#ffffff"),
    (1274, 1308, "61.00650", UP, "#ffffff"),
    (1503, 1537, "26.66154", "#ff0000", "#ffffff"),
    (1537, 1571, "18.31982", UP, "#ffffff"),
]
for y0, y1, txt, bgc, fgc in tags:
    rect(1584, y0, 1724, y1, bgc)
    label(1601, (y0 + y1) / 2 + 1, txt, fgc, 18, va="center", zorder=3)
rect(1584, 721, 1724, 782.5, UP)
label(1601, 739, "74.47750", "#ffffff", 18, va="center", zorder=3)
label(1601, 767, "03:50:23", "#c8e6df", 18, va="center", zorder=3)

# notes on the chart
label(1094, 83, "Lower high", "#f23645", 22, width=149, weight="bold", zorder=3)
label(1094, 111, "USD 89.37", "#f23645", 22, width=149, weight="bold", zorder=3)
label(805, 558, "50 MA", "#5500ff", 20, width=86, weight="bold", zorder=3)
label(1388, 1111, "200 MA", "#e91e63", 20, width=106, weight="bold", zorder=3)
label(50, 1254, "Correction Low so far", UP, 22, width=293, weight="bold", zorder=3)
label(50, 1282, "USD 61.00", UP, 22, width=148, weight="bold", zorder=3)
label(934, 729, "Bias level USD 75.00", "#ffffff", 22, width=320, weight="bold", zorder=3)
over.add_patch(Ellipse((919, 716), 5, 9, color="#b0b2b4", zorder=3))
label(1214, 550, "38.20% (79.31384)", "#ff9800", 15, width=190, zorder=3)
for y, txt, x1, col in [
    (404, "Resistance USD 81.70 - 83.80", 1534, "#cc0000"),
    (559, "Resistance USD 78.00 - 80.00", 1534, "#cc0000"),
    (733, "Support USD 74.00 - 75.50", 1534, "#12b012"),
    (878, "Support USD 70.00 - 72.50", 1534, "#12b012"),
    (1246, "Support USD 58.00 - 61.00", 1539, "#12b012"),
]:
    label(x1, y, txt, col, 13, ha="right", zorder=3)

# flags
for px, y0, y1 in [(1519, 522, 556), (1500, 1026, 1061)]:
    rect(px - 1.5, y0, px + 1.5, y1, "#6b6f78")
    over.add_patch(Polygon([(px + 1, y0), (px + 23, y0 + 11), (px + 1, y0 + 20)], color="#e0324a", lw=0, zorder=2))

# blue sketch of the expected path
over.plot([1501.7, 1506.7, 1511.7, 1520.7, 1531.7, 1545, 1561.7, 1570],
          [740, 728, 750.7, 716.7, 746.7, 684, 715.7, 688.3], color="#2962ff", lw=2.8, zorder=3)
over.plot([1533, 1561], [706, 715], color="#2962ff", lw=2.8, zorder=3)
over.plot([1521, 1530], [750.7, 841.7], color="#2f6bf0", lw=1.3, zorder=3)
over.plot([1519.3, 1530, 1540.7], [832.7, 842.7, 830.7], color="#2f6bf0", lw=1.3, zorder=3)

# stochastic rings
for cx, cy in [(1434.5, 1394), (1476, 1431)]:
    over.add_patch(Ellipse((cx, cy), 48, 48, facecolor=(1, 0.2, 0, 0.1), edgecolor="#ff3d00", lw=2.2, zorder=3))
over.add_patch(Ellipse((1555, 1559.7), 48, 48, facecolor="#0d4a1a", edgecolor="#00ff00", lw=2.6, zorder=3))

# table under the chart
t = label(446, table_rows[4][2], table_rows[4][1], "#e6e6e6", 24, width=928, family="Open Sans")
size = t.get_fontsize()
for i, (name, value, y) in enumerate(table_rows):
    label(46, y, name, "#e6e6e6", size, family="Open Sans")
    if i != 4:
        label(446, y, value, "#e6e6e6", size, family="Open Sans")

rect(20, 1963, 1750, 1968, "#e2e2e2")
rect(20, 2319, 1750, 2324, "#e2e2e2")

label(46, 2007, "Presented by", "#e6e6e6", size, width=197, family="Open Sans")
label(1046, 2007, "Produced by", "#e6e6e6", size, width=187, family="Open Sans")
label(46, 2250, "TSXV: SLVR  I  OTCQX: SLVTF  I  ISIN: CA82831T1093", "#e6e6e6", size, width=846, family="Open Sans")
label(46, 2301, "https://silvertigermetals.com", "#e6e6e6", size, width=482, family="Open Sans")
label(1046, 2250, "Daily Silver Call for June 3, 2026", "#e6e6e6", size, width=522, family="Open Sans")
label(46, 2358, "Disclaimer: Daily Silver Call is for educational & research purposes only & is not intended to provide "
      "any financial advice. Any and all liability is categorically excluded.", "#f0f0f0", 14, width=1618,
      family="Open Sans", style="italic")

# logos
spaced(47, 423, 2118, "SILVER", 68, "#e4e4e4", weight="bold")
spaced(590, 913, 2118, "TIGER", 68, "#e4e4e4", weight="bold")
spaced(666, 914, 2170, "METALS INC", 26, "#e4e4e4")
claws = [
    (513.5, 1993, 446, 2117, "#c9c2b0", "#dcdcdc"),
    (553, 1982, 455, 2155, "#e8c44a", "#a8a8a8"),
    (559, 2028, 488, 2153, "#e6bb3c", "#b09a68"),
    (570, 2063, 521, 2150, "#f0c030", "#d0a838"),
]
for x0, y0, x1, y1, c_top, c_bot in claws:
    xm, ym = (x0 + x1) / 2, (y0 + y1) / 2
    over.add_patch(Polygon([(x0, y0), (xm + 7, ym), (xm - 7, ym)], color=c_top, lw=0, zorder=2))
    over.add_patch(Polygon([(x1, y1), (xm + 7, ym), (xm - 7, ym)], color=c_bot, lw=0, zorder=2))

spaced(1042, 1354, 2114, "MIDAS", 68, "#9c9c9c", weight="bold")
spaced(1390, 1710, 2114, "TOUCH", 68, "#8f8f8f", weight="normal")
for r in [6, 11, 16, 21]:
    over.add_patch(Ellipse((1480, 2080), r * 1.55, r * 2, fill=False, edgecolor="#8a8a8a", lw=2.0, zorder=2))
spaced(1174, 1586, 2164, "CONSULTING", 16, "#a6a6a6", weight="bold")
spaced(1194, 1565, 2201, "www.midastouch-consulting.com", 13, "#8c8c8c")

fig.savefig("out.png", dpi=100, facecolor=fig.get_facecolor())
